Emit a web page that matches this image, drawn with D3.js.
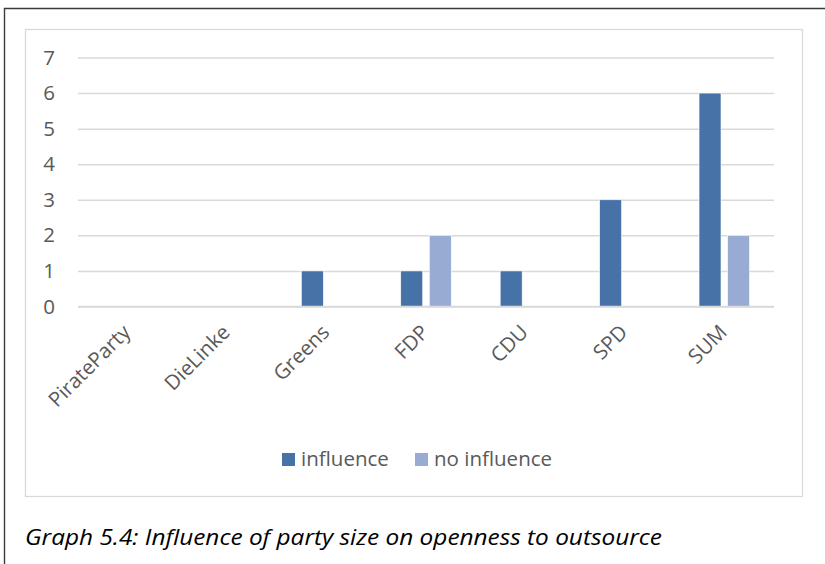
<!DOCTYPE html>
<html>
<head>
<meta charset="utf-8">
<script src="https://cdn.jsdelivr.net/npm/d3@7"></script>
<style>
  body { margin: 0; background: #fff; }
  svg { display: block; }
  text { font-family: "Open Sans", sans-serif; }
</style>
</head>
<body>
<div id="chart"></div>
<script>
const categories = ["PirateParty", "DieLinke", "Greens", "FDP", "CDU", "SPD", "SUM"];
const influence = [0, 0, 1, 1, 1, 3, 6];
const noInfluence = [0, 0, 0, 2, 0, 0, 2];
const seriesNames = ["influence", "no influence"];
const yTicks = [0, 1, 2, 3, 4, 5, 6, 7];
const caption = "Graph 5.4: Influence of party size on openness to outsource";

const colors = ["#4672a8", "#97abd3"];
const textColor = "#595959";
const fontSize = "20.5px";

const W = 825, H = 564;
const plot = {left: 78, right: 774, top: 57.5, bottom: 306.5};

const svg = d3.select("#chart")
    .append("svg")
    .attr("width", W)
    .attr("height", H);

// outer page frame (only left and top visible)
svg.append("path")
    .attr("d", "M4.5," + H + "V8.5H" + W)
    .attr("fill", "none")
    .attr("stroke", "#3a3a3a")
    .attr("stroke-width", 1.4);

// chart area frame
svg.append("rect")
    .attr("x", 25.5)
    .attr("y", 29.5)
    .attr("width", 777)
    .attr("height", 467)
    .attr("fill", "#fff")
    .attr("stroke", "#d9d9d9")
    .attr("stroke-width", 1.3);

const x0 = d3.scaleBand()
    .domain(categories)
    .range([plot.left, plot.right])
    .padding(0);

const groupWidth = 50.5;
const x1 = d3.scaleBand()
    .domain(seriesNames)
    .range([0, groupWidth])
    .paddingInner(0.23);

const y = d3.scaleLinear()
    .domain([0, 7])
    .range([plot.bottom, plot.top]);

// gridlines + y labels
const yAxis = svg.append("g")
    .attr("transform", "translate(" + plot.left + ",0)")
    .call(d3.axisLeft(y)
        .tickValues(yTicks)
        .tickFormat(d3.format("d"))
        .tickSize(-(plot.right - plot.left))
        .tickPadding(23));
yAxis.select(".domain").remove();
yAxis.selectAll(".tick line")
    .attr("stroke", "#d9d9d9")
    .attr("stroke-width", 1.5);
yAxis.selectAll(".tick text")
    .attr("fill", textColor)
    .style("font-size", fontSize)
    .style("font-family", "'Open Sans', sans-serif");

const rows = categories.map((c, i) => ({cat: c, values: [influence[i], noInfluence[i]]}));

const groups = svg.append("g")
    .selectAll("g")
    .data(rows)
    .enter().append("g")
    .attr("transform", d => "translate(" + (x0(d.cat) + (x0.bandwidth() - groupWidth) / 2) + ",0)");

groups.selectAll("rect")
    .data(d => d.values.map((v, j) => ({series: seriesNames[j], value: v, idx: j})))
    .enter().append("rect")
    .filter(d => d.value > 0)
    .attr("x", d => x1(d.series))
    .attr("width", x1.bandwidth())
    .attr("y", d => y(d.value))
    .attr("height", d => y(0) - y(d.value))
    .attr("fill", d => colors[d.idx])
    .attr("stroke", "#fff")
    .attr("stroke-width", 0.6);

// x axis baseline redrawn over the bars
svg.append("line")
    .attr("x1", plot.left)
    .attr("x2", plot.right)
    .attr("y1", y(0))
    .attr("y2", y(0))
    .attr("stroke", "#d9d9d9")
    .attr("stroke-width", 1.5);

// rotated category labels
svg.append("g")
    .selectAll("text")
    .data(categories)
    .enter().append("text")
    .attr("transform", d => "translate(" + (x0(d) + x0.bandwidth() / 2 + 4) + "," + (plot.bottom + 27) + ") rotate(-45)")
    .attr("text-anchor", "end")
    .attr("fill", textColor)
    .style("font-size", fontSize)
    .text(d => d);

// legend
const legendX = [282, 415];
const legend = svg.append("g")
    .selectAll("g")
    .data(seriesNames)
    .enter().append("g")
    .attr("transform", (d, i) => "translate(" + legendX[i] + ",453)");
legend.append("rect")
    .attr("width", 13)
    .attr("height", 13)
    .attr("fill", (d, i) => colors[i]);
legend.append("text")
    .attr("x", 19)
    .attr("y", 13)
    .attr("fill", textColor)
    .style("font-size", fontSize)
    .text(d => d);

// caption
svg.append("text")
    .attr("x", 25)
    .attr("y", 545)
    .attr("fill", "#000")
    .attr("textLength", 637)
    .attr("lengthAdjust", "spacingAndGlyphs")
    .style("font-size", "21.5px")
    .style("font-style", "italic")
    .text(caption);
</script>
</body>
</html>
